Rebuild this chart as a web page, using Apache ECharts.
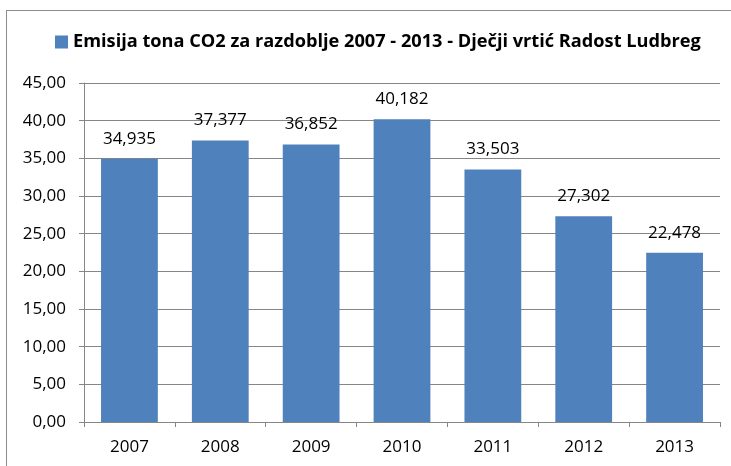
<!DOCTYPE html>
<html><head><meta charset="utf-8">
<script src="https://cdn.jsdelivr.net/npm/echarts@6/dist/echarts.min.js"></script>
<style>html,body{margin:0;padding:0;background:#fff}#frame{position:absolute;left:6px;top:10px;width:740px;height:470px;border:1px solid #8c8c8c;box-sizing:border-box}#c{position:absolute;left:0;top:0;width:731px;height:466px}</style>
</head><body><div id="frame"></div><div id="c"></div>
<script>
const categories = ['2007','2008','2009','2010','2011','2012','2013'];
const values = [34.935, 37.377, 36.852, 40.182, 33.503, 27.302, 22.478];
const seriesName = 'Emisija tona CO2 za razdoblje 2007 - 2013 - Dječji vrtić Radost Ludbreg';
const yMin = 0, yMax = 45, yStep = 5;
const font = 'Open Sans';
const chart = echarts.init(document.getElementById('c'));
chart.setOption({
  animation:false,
  legend:{top:33,left:55,itemWidth:13,itemHeight:13,icon:'rect',padding:0,
    textStyle:{fontFamily:font,fontWeight:'bold',fontSize:18.2,color:'#000'},data:[seriesName]},
  grid:{left:84,right:11,top:83,bottom:44},
  xAxis:{type:'category',data:categories,
    axisLine:{lineStyle:{color:'#868686'}},
    axisTick:{show:true,length:5,lineStyle:{color:'#868686'}},
    axisLabel:{fontFamily:font,fontSize:17,color:'#000',margin:17}},
  yAxis:{type:'value',min:yMin,max:yMax,interval:yStep,
    axisLine:{show:true,lineStyle:{color:'#868686'}},
    axisTick:{show:true,length:5,lineStyle:{color:'#868686'}},
    splitLine:{lineStyle:{color:'#868686'}},
    axisLabel:{fontFamily:font,fontSize:17,color:'#000',margin:18,
      formatter:v=>v.toFixed(2).replace('.',',')}},
  series:[{name:seriesName,type:'bar',data:values,barWidth:'62.5%',
    itemStyle:{color:'#4F81BD'},
    label:{show:true,position:'top',distance:11.5,fontFamily:font,fontSize:17,color:'#000',
      formatter:p=>p.value.toFixed(3).replace('.',',')}}]
});
</script></body></html>
